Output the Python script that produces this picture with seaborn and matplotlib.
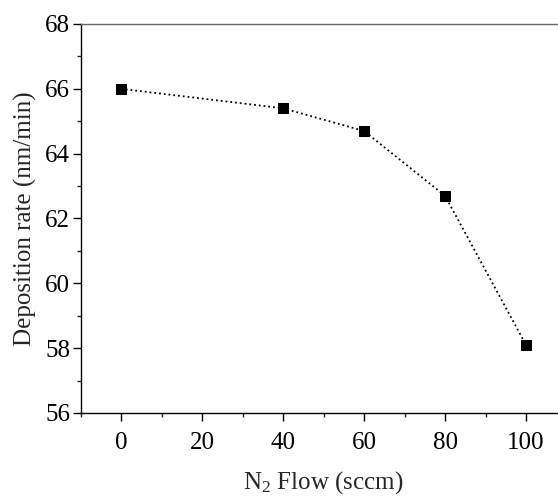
import numpy as np
import pandas as pd
from matplotlib import pyplot as plt
from matplotlib.ticker import MultipleLocator
import seaborn as sns

flow = [0, 40, 60, 80, 100]
rate = [66.0, 65.4, 64.7, 62.7, 58.1]

df = pd.DataFrame({"flow": flow, "rate": rate})

sns.set_style("ticks")
plt.rcParams["font.family"] = ["Liberation Serif", "DejaVu Serif"]
plt.rcParams["mathtext.fontset"] = "custom"
plt.rcParams["mathtext.rm"] = "Liberation Serif"
plt.rcParams["mathtext.it"] = "Liberation Serif:italic"

fig = plt.figure(figsize=(5.58, 5.0), dpi=100)
ax = fig.add_axes([0.1443, 0.174, 0.871, 0.778])

sns.lineplot(data=df, x="flow", y="rate", ax=ax, color="black", linestyle=":",
             linewidth=1.3, marker="s", markersize=6.5, markeredgecolor="black")

ax.set_xlim(-10, 110)
ax.set_ylim(56, 68)
ax.xaxis.set_major_locator(MultipleLocator(20))
ax.xaxis.set_minor_locator(MultipleLocator(10))
ax.yaxis.set_major_locator(MultipleLocator(2))
ax.yaxis.set_minor_locator(MultipleLocator(1))
ax.tick_params(which="major", direction="out", length=5.5, width=1, labelsize=18,
               colors="black", pad=2)
ax.tick_params(axis="x", which="major", pad=8)
ax.tick_params(which="minor", direction="out", length=3, width=1)
ax.tick_params(top=False, right=False)
for s in ax.spines.values():
    s.set_color("black")
    s.set_linewidth(1)
ax.spines["top"].set_color("#666666")

ax.set_xlabel("N$_2$ Flow (sccm)", fontsize=18, labelpad=11)
ax.set_ylabel("Deposition rate (nm/min)", fontsize=18, labelpad=6)

plt.savefig("out.png")
